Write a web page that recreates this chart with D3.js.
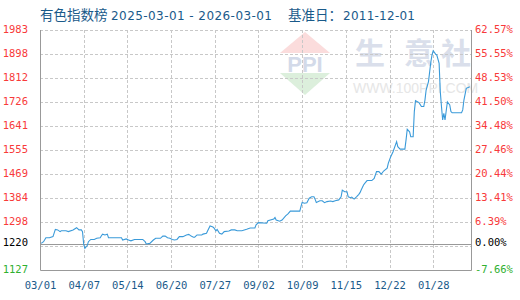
<!DOCTYPE html>
<html>
<head>
<meta charset="utf-8">
<script src="https://cdn.jsdelivr.net/npm/d3@7"></script>
<style>
  body { margin: 0; background: #fff; }
  svg { display: block; }
</style>
</head>
<body>
<div id="chart"></div>
<script>
var width = 520,
    height = 300;

var margin = { top: 30, right: 49, bottom: 30, left: 40 };

// index values
var dates = ["2025-03-02","2025-03-04","2025-03-06","2025-03-09","2025-03-12","2025-03-14","2025-03-16","2025-03-18","2025-03-19","2025-03-23",
  "2025-03-25","2025-03-29","2025-04-01","2025-04-03","2025-04-05","2025-04-06","2025-04-07","2025-04-08","2025-04-10","2025-04-11",
  "2025-04-13","2025-04-16","2025-04-18","2025-04-21","2025-04-22","2025-04-23","2025-04-25","2025-04-27","2025-04-28","2025-05-09",
  "2025-05-10","2025-05-13","2025-05-15","2025-05-17","2025-05-20","2025-05-27","2025-05-29","2025-05-30","2025-06-02","2025-06-05",
  "2025-06-07","2025-06-11","2025-06-13","2025-06-15","2025-06-17","2025-06-19","2025-06-21","2025-06-23","2025-06-25","2025-06-27",
  "2025-06-30","2025-07-03","2025-07-05","2025-07-07","2025-07-09","2025-07-10","2025-07-12","2025-07-16","2025-07-17","2025-07-20",
  "2025-07-21","2025-07-23","2025-07-25","2025-07-26","2025-07-28","2025-07-29","2025-07-31","2025-08-02","2025-08-04","2025-08-08",
  "2025-08-10","2025-08-13","2025-08-15","2025-08-19","2025-08-23","2025-08-26","2025-08-30","2025-08-31","2025-09-02","2025-09-09",
  "2025-09-10","2025-09-15","2025-09-16","2025-09-17","2025-09-20","2025-09-22","2025-09-25","2025-09-27","2025-09-29","2025-10-07",
  "2025-10-08","2025-10-09","2025-10-11","2025-10-13","2025-10-15","2025-10-17","2025-10-19","2025-10-20","2025-10-21","2025-10-24",
  "2025-10-26","2025-10-28","2025-10-30","2025-11-02","2025-11-04","2025-11-06","2025-11-09","2025-11-11","2025-11-12","2025-11-14",
  "2025-11-16","2025-11-17","2025-11-19","2025-11-20","2025-11-22","2025-11-24","2025-11-26","2025-11-27","2025-11-28","2025-11-30",
  "2025-12-01","2025-12-03","2025-12-07","2025-12-09","2025-12-11","2025-12-13","2025-12-15","2025-12-17","2025-12-20","2025-12-21",
  "2025-12-23","2025-12-25","2025-12-28","2025-12-29","2025-12-31","2026-01-04","2026-01-05","2026-01-06","2026-01-08","2026-01-09",
  "2026-01-11","2026-01-12","2026-01-13","2026-01-16","2026-01-18","2026-01-20","2026-01-21","2026-01-22","2026-01-24","2026-01-25",
  "2026-01-26","2026-01-27","2026-01-28","2026-01-30","2026-01-31","2026-02-02","2026-02-03","2026-02-04","2026-02-05","2026-02-06",
  "2026-02-07","2026-02-09","2026-02-11","2026-02-12","2026-02-13","2026-02-21","2026-02-22","2026-02-23","2026-02-25","2026-02-28"];

var values = [1222,1228,1242,1242,1246,1272,1270,1264,1267,1267,
  1264,1270,1278,1270,1270,1264,1219,1204,1214,1228,
  1236,1236,1240,1242,1249,1255,1252,1255,1242,1242,
  1234,1238,1234,1231,1236,1236,1228,1220,1222,1234,
  1240,1240,1248,1248,1242,1240,1236,1234,1236,1246,
  1246,1252,1254,1248,1244,1244,1252,1252,1255,1258,
  1267,1284,1281,1279,1267,1272,1258,1255,1264,1266,
  1270,1270,1267,1267,1272,1277,1277,1288,1296,1294,
  1303,1309,1314,1305,1301,1305,1320,1327,1337,1337,
  1353,1368,1365,1367,1383,1388,1388,1379,1368,1374,
  1374,1367,1371,1373,1371,1374,1377,1388,1412,1406,
  1406,1388,1385,1387,1380,1388,1397,1403,1412,1430,
  1436,1446,1446,1454,1478,1478,1469,1480,1490,1508,
  1531,1549,1585,1567,1558,1558,1591,1629,1620,1602,
  1602,1692,1731,1724,1710,1710,1733,1769,1799,1834,
  1869,1894,1909,1897,1894,1864,1763,1710,1662,1686,
  1662,1727,1716,1692,1688,1688,1698,1733,1775,1781];

var baseValue = 1220;
var yTicks = [1127, 1212.6, 1298.2, 1383.8, 1469.4, 1555, 1640.6, 1726.2, 1811.8, 1897.4, 1983];
var leftLabels = ["1127", "", "1298", "1384", "1469", "1555", "1641", "1726", "1812", "1898", "1983"];
var rightLabels = ["-7.66%", "", "6.39%", "13.41%", "20.44%", "27.46%", "34.48%", "41.50%", "48.53%", "55.55%", "62.57%"];

var xTickDates = ["2025-03-01","2025-04-07","2025-05-14","2025-06-20","2025-07-27","2025-09-02","2025-10-09","2025-11-15","2025-12-22","2026-01-28"];

var parse = d3.timeParse("%Y-%m-%d");
var data = dates.map(function(d, i) { return { date: parse(d), value: values[i] }; });

var svg = d3.select('#chart').append('svg')
    .attr('width', width)
    .attr('height', height);

var x = d3.scaleTime()
    .domain([parse("2025-03-01"), parse("2026-03-01")])
    .range([margin.left, width - margin.right]);

var y = d3.scaleLinear()
    .domain([1127, 1983])
    .range([height - margin.bottom, margin.top]);

var red = '#f83a3a', green = '#2fb02f', blue = '#1a5a8a';

// title, in pieces so the latin runs get the wider look of the original
var titleParts = [
    { t: '有色指数榜', x: 40, cjk: true },
    { t: '2025-03-01 - 2026-03-01', x: 111, len: 161 },
    { t: '基准日：', x: 288, cjk: true },
    { t: '2011-12-01', x: 343, len: 72 }
];
svg.selectAll('text.title')
    .data(titleParts)
    .enter().append('text')
    .attr('class', 'title')
    .attr('x', function(d) { return d.x; })
    .attr('y', 19.5)
    .attr('fill', blue)
    .attr('textLength', function(d) { return d.len || null; })
    .attr('lengthAdjust', 'spacing')
    .style('font-family', function(d) { return d.cjk ? '"Noto Sans CJK SC", sans-serif' : '"DejaVu Sans", sans-serif'; })
    .style('font-size', function(d) { return d.cjk ? '13.5px' : '12px'; })
    .text(function(d) { return d.t; });

// watermark
var wm = svg.append('g').attr('class', 'watermark');
wm.append('path').attr('d', 'M305,32L330,53L280,53Z').attr('fill', '#fbdcdc');
wm.append('path').attr('d', 'M280,73L330,73L305,95Z').attr('fill', '#dcefdc');
wm.append('text')
    .attr('x', 305).attr('y', 72)
    .attr('text-anchor', 'middle')
    .attr('fill', '#d3dae9')
    .style('font-family', '"Liberation Sans", sans-serif')
    .style('font-weight', 'bold')
    .style('font-size', '22px')
    .text('PPI');
wm.selectAll('text.mark')
    .data([['生', 370], ['意', 419], ['社', 456]])
    .enter().append('text')
    .attr('class', 'mark')
    .attr('x', function(d) { return d[1]; })
    .attr('y', 64)
    .attr('text-anchor', 'middle')
    .attr('fill', '#dadfeb')
    .style('font-family', '"Noto Sans CJK SC", sans-serif')
    .style('font-weight', 'bold')
    .style('font-size', '30px')
    .text(function(d) { return d[0]; });
wm.append('text')
    .attr('x', 353).attr('y', 93)
    .attr('fill', '#e6e6e6')
    .style('font-family', '"Liberation Sans", sans-serif')
    .style('font-size', '14px')
    .text('WWW.100PPI.COM');

// grid
var grid = svg.append('g').attr('class', 'grid');
grid.selectAll('line.h')
    .data(yTicks.slice(1))
    .enter().append('line')
    .attr('x1', margin.left).attr('x2', width - margin.right)
    .attr('y1', function(d) { return Math.round(y(d)) + 0.5; })
    .attr('y2', function(d) { return Math.round(y(d)) + 0.5; })
    .attr('stroke', '#c8c8c8')
    .attr('stroke-dasharray', '3,2');

grid.selectAll('line.v')
    .data(xTickDates.slice(1))
    .enter().append('line')
    .attr('x1', function(d) { return Math.round(x(parse(d))) + 0.5; })
    .attr('x2', function(d) { return Math.round(x(parse(d))) + 0.5; })
    .attr('y1', margin.top).attr('y2', height - margin.bottom)
    .attr('stroke', '#c8c8c8')
    .attr('stroke-dasharray', '3,2');

// base line
svg.append('line')
    .attr('x1', margin.left).attr('x2', width - margin.right)
    .attr('y1', Math.round(y(baseValue)) + 0.5)
    .attr('y2', Math.round(y(baseValue)) + 0.5)
    .attr('stroke', '#999');

// frame (left, bottom, right)
var x0 = margin.left + 0.5, x1 = width - margin.right + 0.5, yb = height - margin.bottom + 0.5;
svg.append('path')
    .attr('d', 'M' + x0 + ',' + margin.top + 'V' + yb + 'H' + x1 + 'V' + margin.top)
    .attr('fill', 'none')
    .attr('stroke', '#999');

// line
var line = d3.line()
    .x(function(d) { return x(d.date); })
    .y(function(d) { return y(d.value); });

svg.append('path')
    .datum(data)
    .attr('fill', 'none')
    .attr('stroke', '#3a9ad9')
    .attr('stroke-width', 1.1)
    .attr('d', line);

// left axis
function colorFor(i) {
    if (i === 0) return green;
    if (i === 1) return '#000';
    return red;
}

var leftAxis = d3.axisLeft(y)
    .tickValues(yTicks)
    .tickSize(0)
    .tickPadding(0)
    .tickFormat(function(d, i) { return i === 1 ? '1220' : leftLabels[i]; });

var gl = svg.append('g')
    .attr('transform', 'translate(28,0)')
    .call(leftAxis);
gl.select('.domain').remove();
gl.selectAll('.tick')
    .attr('transform', function(d, i) { return 'translate(0,' + (i === 1 ? y(baseValue) - 1.5 : y(d)) + ')'; });
gl.selectAll('.tick text')
    .attr('fill', function(d, i) { return colorFor(i); })
    .style('font-family', '"DejaVu Sans Mono", monospace')
    .style('font-size', '10.5px');

var rightAxis = d3.axisRight(y)
    .tickValues(yTicks)
    .tickSize(0)
    .tickPadding(0)
    .tickFormat(function(d, i) { return i === 1 ? '0.00%' : rightLabels[i]; });

var gr = svg.append('g')
    .attr('transform', 'translate(475,0)')
    .call(rightAxis);
gr.select('.domain').remove();
gr.selectAll('.tick')
    .attr('transform', function(d, i) { return 'translate(0,' + (i === 1 ? y(baseValue) - 1.5 : y(d)) + ')'; });
gr.selectAll('.tick text')
    .attr('fill', function(d, i) { return colorFor(i); })
    .style('font-family', '"DejaVu Sans Mono", monospace')
    .style('font-size', '10.5px');

// bottom axis
var bottomAxis = d3.axisBottom(x)
    .tickValues(xTickDates.map(parse))
    .tickSize(0)
    .tickPadding(0)
    .tickFormat(d3.timeFormat('%m/%d'));

var gb = svg.append('g')
    .attr('transform', 'translate(0,' + (height - margin.bottom + 12) + ')')
    .call(bottomAxis);
gb.select('.domain').remove();
gb.selectAll('.tick text')
    .attr('fill', blue)
    .style('font-family', '"DejaVu Sans Mono", monospace')
    .style('font-size', '10.5px');
</script>
</body>
</html>
